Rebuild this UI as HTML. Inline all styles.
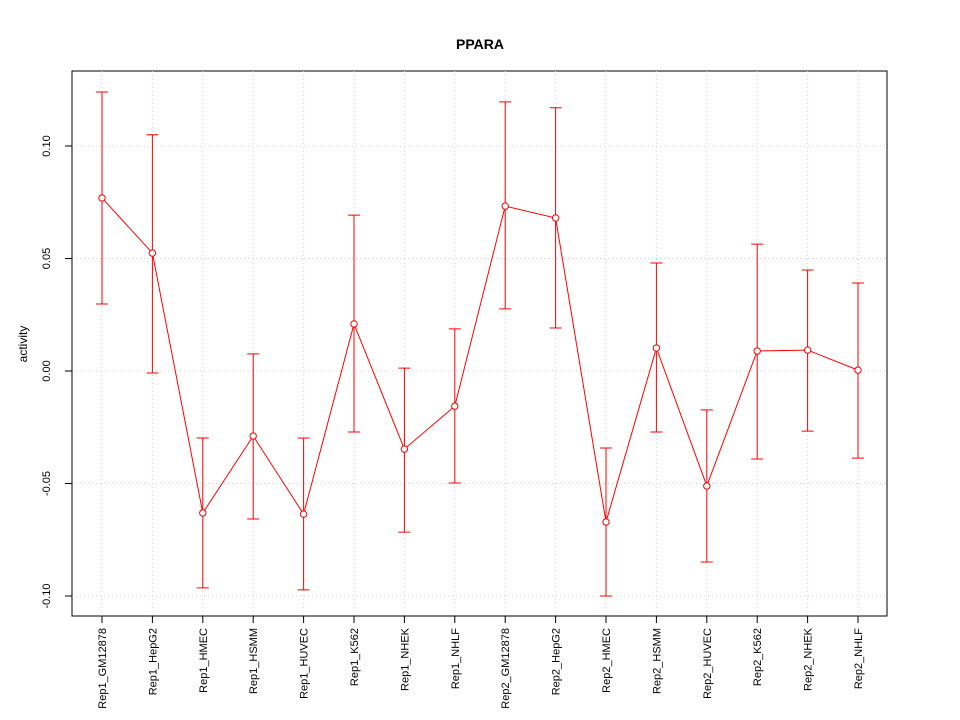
<!DOCTYPE html>
<html><head><meta charset="utf-8"><style>
body{margin:0;background:#fff}
svg{display:block;font-family:"Liberation Sans",Arial,sans-serif}
</style></head><body>
<svg id="chart" width="960" height="720">
<text x="480" y="49" text-anchor="middle" font-size="14" font-weight="bold">PPARA</text>
<rect x="72" y="71" width="815" height="545" fill="none" stroke="#000"/>
<text transform="translate(27,344) rotate(-90)" text-anchor="middle" font-size="12">activity</text>
<g id="grid"></g><g id="axes"></g><g id="series"></g>
</svg>
<script>
const categories=["Rep1_GM12878","Rep1_HepG2","Rep1_HMEC","Rep1_HSMM","Rep1_HUVEC","Rep1_K562","Rep1_NHEK","Rep1_NHLF","Rep2_GM12878","Rep2_HepG2","Rep2_HMEC","Rep2_HSMM","Rep2_HUVEC","Rep2_K562","Rep2_NHEK","Rep2_NHLF"];
const values=[0.0769,0.0524,-0.0631,-0.0289,-0.0636,0.0209,-0.0347,-0.0156,0.0733,0.068,-0.0671,0.0102,-0.0511,0.0089,0.0093,0.0004];
const upper=[0.124,0.105,-0.0298,0.0076,-0.0298,0.0693,0.0013,0.0187,0.1196,0.117,-0.0342,0.048,-0.0173,0.0564,0.0449,0.0391];
const lower=[0.0298,-0.0009,-0.0964,-0.0658,-0.0973,-0.0271,-0.0716,-0.0498,0.0276,0.0191,-0.1,-0.0271,-0.0849,-0.0391,-0.0267,-0.0387];
const yTicks=[-0.10,-0.05,0.00,0.05,0.10];
const yTickLabels=["-0.10","-0.05","0.00","0.05","0.10"];
const NS="http://www.w3.org/2000/svg";
const xs=i=>102+i*(858-102)/(categories.length-1);
const ys=v=>371-v*2250;
function mk(parent,tag,attrs){const e=document.createElementNS(NS,tag);for(const k in attrs)e.setAttribute(k,attrs[k]);document.getElementById(parent).appendChild(e);return e;}
yTicks.forEach((t,i)=>{
 let g=mk('grid','line',{x1:72,x2:887,y1:ys(t),y2:ys(t),stroke:'#d3d3d3','stroke-dasharray':'1,3'});
 
 
 let tk=mk('axes','line',{x1:65,x2:72,y1:ys(t),y2:ys(t),stroke:'#000'});
 
 
 let tx=mk('axes','text',{transform:`translate(50,${ys(t)}) rotate(-90)`,'text-anchor':'middle','font-size':'11'});
 tx.textContent=yTickLabels[i];
 
 
});
mk('axes','line',{x1:72,x2:72,y1:ys(yTicks[0]),y2:ys(yTicks[yTicks.length-1]),stroke:'#000'});
categories.forEach((c,i)=>{
 let g=mk('grid','line',{x1:xs(i),x2:xs(i),y1:71,y2:616,stroke:'#d3d3d3','stroke-dasharray':'1,3'});
 
 
 let tk=mk('axes','line',{x1:xs(i),x2:xs(i),y1:616,y2:623,stroke:'#000'});
 
 
 let tx=mk('axes','text',{transform:`translate(${xs(i)+4},628) rotate(-90)`,'text-anchor':'end','font-size':'11'});
 tx.textContent=c;
 
 
});
mk('axes','line',{x1:xs(0),x2:xs(categories.length-1),y1:616,y2:616,stroke:'#000'});
const pts=values.map((v,i)=>xs(i)+','+ys(v)).join(' ');
let pl=mk('series','polyline',{points:pts,fill:'none',stroke:'#ff0000'});


values.forEach((v,i)=>{
 const x=xs(i);
 let e=mk('series','path',{d:`M${x},${ys(upper[i])}V${ys(lower[i])}M${x-6},${ys(upper[i])}H${x+6}M${x-6},${ys(lower[i])}H${x+6}`,stroke:'#ff0000',fill:'none'});
 
 
 let c=mk('series','circle',{cx:x,cy:ys(v),r:3.2,fill:'#fff',stroke:'#ff0000'});
 
 
});
</script>
</body></html>
